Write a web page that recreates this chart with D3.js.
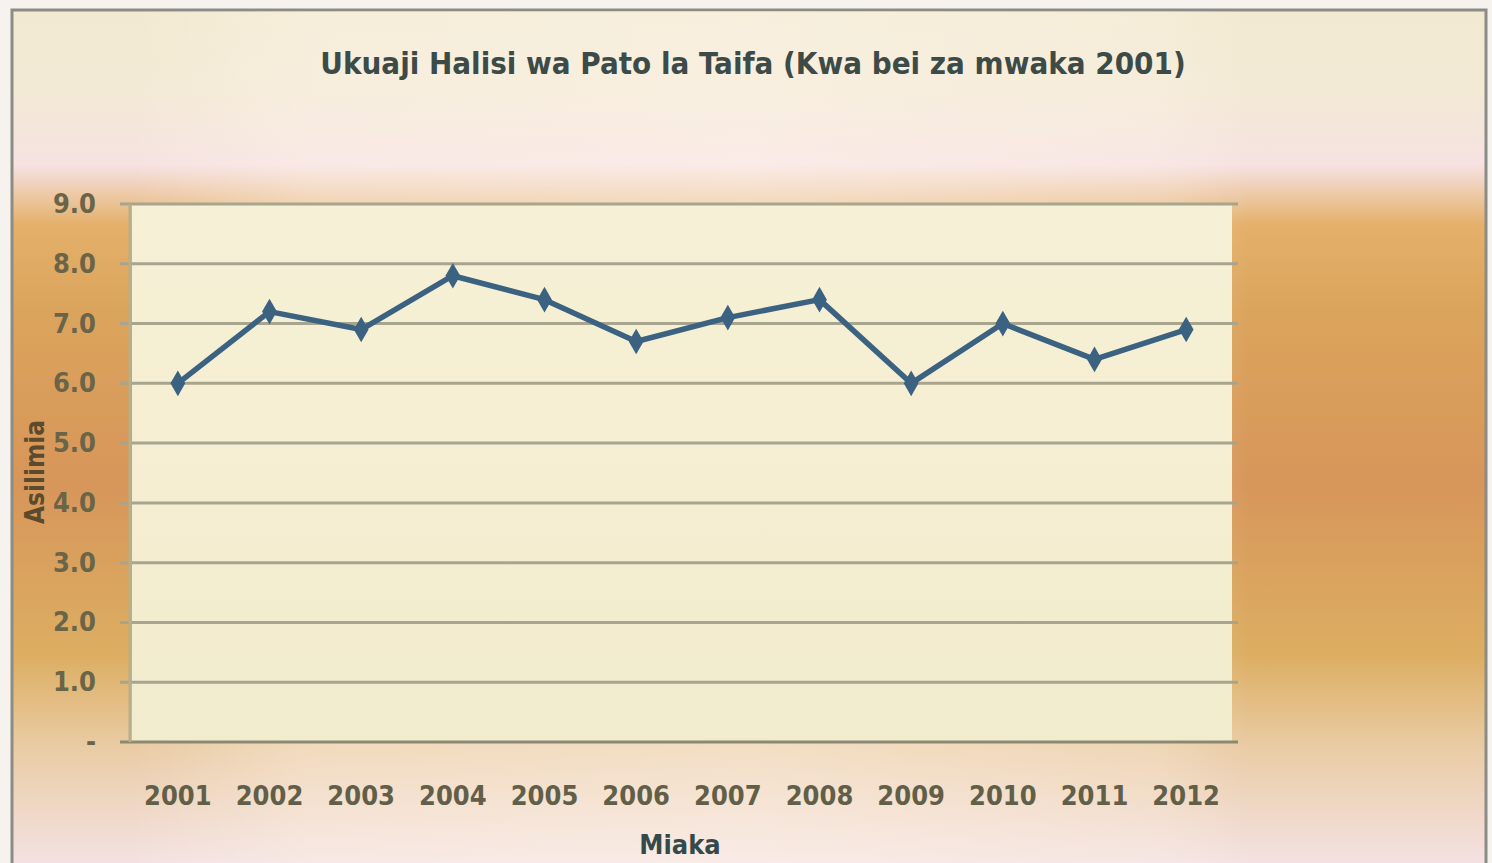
<!DOCTYPE html>
<html>
<head>
<meta charset="utf-8">
<script src="https://cdn.jsdelivr.net/npm/d3@7"></script>
<style>
  html,body{margin:0;padding:0;background:#f6f3ee;}
  svg{display:block;}
  text{font-family:"Liberation Sans Narrow","DejaVu Sans Condensed","Roboto Condensed",sans-serif;font-weight:bold;}
</style>
</head>
<body>
<svg id="chart" width="1492" height="863"></svg>
<script>
const years=["2001","2002","2003","2004","2005","2006","2007","2008","2009","2010","2011","2012"];
const growth=[6.0,7.2,6.9,7.8,7.4,6.7,7.1,7.4,6.0,7.0,6.4,6.9];
const yTicks=[0,1,2,3,4,5,6,7,8,9];
const title="Ukuaji Halisi wa Pato la Taifa (Kwa bei za mwaka 2001)";
const yTitle="Asilimia";
const xTitle="Miaka";

const svg=d3.select("#chart");
const plot={left:132,right:1232,top:204,bottom:742};

const defs=svg.append("defs");
const bg=defs.append("linearGradient").attr("id","bg").attr("x1",0).attr("y1",0).attr("x2",0).attr("y2",1);
[[0,"#f1ead0"],[0.1,"#f3e9d6"],[0.18,"#f6e2e2"],[0.25,"#e4b06a"],[0.35,"#dba45c"],[0.55,"#d7965a"],[0.75,"#dcae62"],[0.86,"#eacca6"],[1,"#f4e3e6"]]
  .forEach(([o,c])=>bg.append("stop").attr("offset",o).attr("stop-color",c));
const hz=defs.append("linearGradient").attr("id","hz").attr("x1",0).attr("y1",0).attr("x2",1).attr("y2",0);
[[0,0],[0.08,0],[0.2,0.35],[0.5,0.45],[0.78,0.25],[0.84,0],[1,0]]
  .forEach(([o,a])=>hz.append("stop").attr("offset",o).attr("stop-color","#fff6ec").attr("stop-opacity",a));
const pf=defs.append("linearGradient").attr("id","pf").attr("x1",0).attr("y1",0).attr("x2",0).attr("y2",1);
[[0,"#f6f0d6"],[0.5,"#f5eed2"],[1,"#f2ecce"]]
  .forEach(([o,c])=>pf.append("stop").attr("offset",o).attr("stop-color",c));

// frame and background
svg.append("rect").attr("x",12).attr("y",10).attr("width",1474).attr("height",860)
  .attr("fill","url(#bg)").attr("stroke","#8c8c86").attr("stroke-width",3);
svg.append("rect").attr("x",13).attr("y",11).attr("width",1472).attr("height",858).attr("fill","url(#hz)");

// plot area
svg.append("rect").attr("x",plot.left).attr("y",plot.top)
  .attr("width",plot.right-plot.left).attr("height",plot.bottom-plot.top)
  .attr("fill","url(#pf)");

const x=d3.scaleBand().domain(years).range([plot.left,plot.right]);
const y=d3.scaleLinear().domain([0,9]).range([plot.bottom,plot.top]);

// gridlines
svg.append("g").selectAll("line").data(yTicks).join("line")
  .attr("x1",plot.left-12).attr("x2",plot.right+6)
  .attr("y1",d=>y(d)).attr("y2",d=>y(d))
  .attr("stroke",d=>d===0?"#8a8a72":"#a7a58e").attr("stroke-width",3);
svg.append("line").attr("x1",plot.left-2).attr("x2",plot.left-2)
  .attr("y1",plot.top).attr("y2",plot.bottom).attr("stroke","#b7ae8a").attr("stroke-width",3);

// y axis labels
svg.append("g").selectAll("text").data(yTicks).join("text")
  .attr("x",96).attr("y",d=>y(d)+9)
  .attr("text-anchor","end").attr("font-size",27).attr("fill","#6a6448")
  .text(d=>d===0?"-":d3.format(".1f")(d));

// x axis labels
svg.append("g").selectAll("text").data(years).join("text")
  .attr("x",d=>x(d)+x.bandwidth()/2).attr("y",805)
  .attr("text-anchor","middle").attr("font-size",27).attr("fill","#625f48")
  .text(d=>d);

// titles
svg.append("text").attr("x",753).attr("y",74).attr("text-anchor","middle")
  .attr("font-size",31).attr("fill","#3d4b48").text(title);
svg.append("text").attr("transform","translate(44,472) rotate(-90)")
  .attr("text-anchor","middle").attr("font-size",26).attr("fill","#5b4a2c").text(yTitle);
svg.append("text").attr("x",680).attr("y",854).attr("text-anchor","middle")
  .attr("font-size",27).attr("fill","#34494a").text(xTitle);

// series
const pts=years.map((d,i)=>[x(d)+x.bandwidth()/2,y(growth[i])]);
svg.append("path").attr("d",d3.line()(pts))
  .attr("fill","none").attr("stroke","#3c6282").attr("stroke-width",5.5)
  .attr("stroke-linejoin","round");
svg.append("g").selectAll("path").data(pts).join("path")
  .attr("transform",d=>`translate(${d[0]},${d[1]})`)
  .attr("d",d3.symbol(d3.symbolDiamond,190))
  .attr("fill","#3c6282");
</script>
</body>
</html>
